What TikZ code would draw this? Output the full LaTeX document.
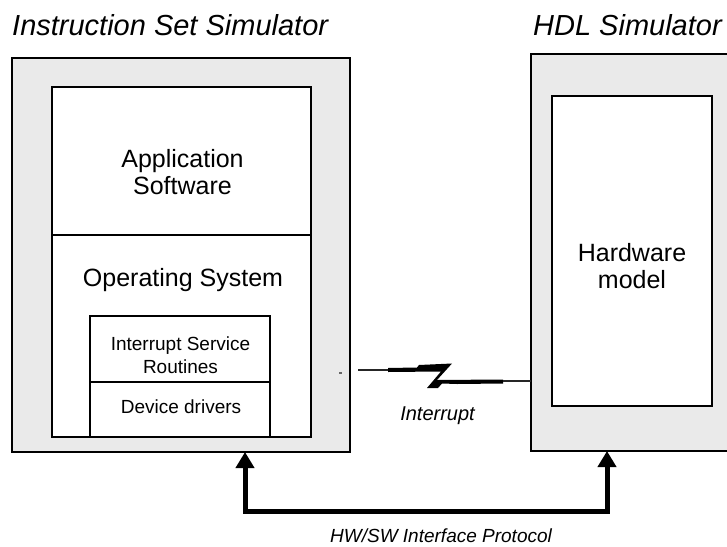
\documentclass[tikz,border=0pt]{standalone}
\usepackage{fontspec}
\setmainfont{Liberation Sans}
\usetikzlibrary{arrows.meta,calc}
\definecolor{simgray}{RGB}{234,234,234}
\tikzset{
  simbox/.style={draw=black, line width=1.8pt, fill=simgray, rectangle, outer sep=0pt, inner sep=0pt},
  layerbox/.style={draw=black, line width=1.8pt, fill=white, rectangle, outer sep=0pt, inner sep=0pt},
  biglbl/.style={font=\fontsize{25}{27}\selectfont, inner sep=0pt, anchor=base},
  smalllbl/.style={font=\fontsize{19}{21}\selectfont, inner sep=0pt, anchor=base},
  titlelbl/.style={font=\itshape\fontsize{29}{31}\selectfont, inner sep=0pt, anchor=base west},
  notelbl/.style={font=\itshape\fontsize{20}{22}\selectfont, inner sep=0pt, anchor=base},
  busline/.style={line width=5pt, line join=miter, {Triangle[width=18pt,length=16pt]}-{Triangle[width=18pt,length=16pt]}},
  wire/.style={line width=1.1pt, draw=black!85}
}
\begin{document}
\begin{tikzpicture}[x=1pt,y=-1pt]
\useasboundingbox (0,0) rectangle (727,546);
\begin{scope}
\clip (0,0) rectangle (727,546);
% titles
\node[titlelbl] (isstitle) at (12,35) {Instruction Set Simulator};
\node[titlelbl] (hdltitle) at (533,35) {HDL Simulator};
% left simulator
\node[simbox, minimum width=338pt, minimum height=394pt] (lbox) at (181,255) {};
\node[layerbox, minimum width=259pt, minimum height=350pt] (inner) at (181.5,262) {};
\draw[line width=1.8pt] (inner.west |- 0,235) -- (inner.east |- 0,235);
\node[biglbl] (app1) at (182.5,167) {Application};
\node[biglbl] (app2) at (182.5,194) {Software};
\node[biglbl] (os) at (183,286) {Operating System};
\node[layerbox, minimum width=180pt, minimum height=66pt] (isr) at (180,349) {};
\node[layerbox, minimum width=180pt, minimum height=55pt] (dd) at (180,409.5) {};
\node[smalllbl] (isr1) at (180.5,350) {Interrupt Service};
\node[smalllbl] (isr2) at (180.5,373) {Routines};
\node[smalllbl] (ddl) at (181,413) {Device drivers};
% right simulator
\node[simbox, minimum width=220pt, minimum height=397pt] (rbox) at (641,252.5) {};
\node[layerbox, minimum width=160pt, minimum height=310pt] (hw) at (632,251) {};
\node[biglbl] (hw1) at (632,261) {Hardware};
\node[biglbl] (hw2) at (632,288) {model};
% interrupt connector
\fill[black!60] (339,371.5) rectangle (342,373.5);
\coordinate (ia) at (358,370);
\coordinate (ib) at (503,381);
\draw[wire] (ia) -- (390,370);
\fill[black] (388,368) -- (417,367.5) -- (419,365) -- (452,363.5) -- (437,380)
  -- (503,379.5) -- (503,383.5) -- (457,384) -- (442,383.5) -- (438,388)
  -- (427,388) -- (441,371.5) -- (388,372) -- cycle;
\draw[wire] (ib) -- (rbox.west |- ib);
\node[notelbl] (intl) at (437.5,420) {Interrupt};
% HW/SW protocol bus
\coordinate (pl) at ($(lbox.south west)+(233,0)$);
\coordinate (pr) at ($(rbox.south west)+(76,0)$);
\coordinate (busy) at (0,511);
\draw[busline] (pl) -- (pl |- busy) -- (pr |- busy) -- (pr);
\node[notelbl, font=\itshape\fontsize{19}{21}\selectfont] (proto) at (441,542) {HW/SW Interface Protocol};
\end{scope}
\end{tikzpicture}
\end{document}
